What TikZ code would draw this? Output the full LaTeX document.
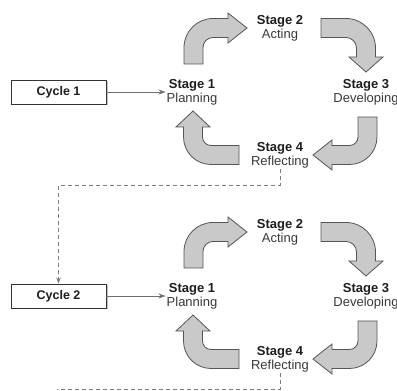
\documentclass[tikz,border=0pt]{standalone}
\usepackage{fontspec}
\setmainfont{Liberation Sans}
\usetikzlibrary{arrows.meta,shadows}
\definecolor{arrowfill}{HTML}{C9C9C9}
\definecolor{arrowline}{HTML}{555555}
\definecolor{conn}{HTML}{6E6E6E}
\definecolor{txt}{HTML}{1E1E1E}
\definecolor{txtsub}{HTML}{383838}
\tikzset{
  bentstyle/.style={fill=arrowfill,draw=arrowline,line width=0.8pt,line join=miter},
  stagetxt/.style={align=center,font=\fontsize{13}{14}\selectfont,inner sep=1pt,text=txt},
  cyclebox/.style={draw=black!80,fill=white,line width=0.9pt,minimum width=95pt,minimum height=24pt,
    font=\bfseries\fontsize{12.5}{14}\selectfont,text=txt,
    drop shadow={shadow xshift=1.5pt,shadow yshift=-1.5pt,fill=black!30,opacity=0.8}},
  connline/.style={draw=conn,line width=0.8pt,-{Stealth[length=7pt,width=5pt]}},
  dashline/.style={draw=conn!90,line width=0.8pt,dash pattern=on 4pt off 3pt}
}
% cx, cy, rotation, R, L1, L2, head length, head half width
\newcommand\bentarrow[8]{%
  \begin{scope}[shift={(#1,#2)},rotate=#3]
    \filldraw[bentstyle] (-#4-9.5,-#5) -- (-#4-9.5,0)
      arc[start angle=180,end angle=90,radius=#4pt+9.5pt]
      -- (#6,#4+9.5) -- (#6,#4+#8) -- (#6+#7,#4) -- (#6,#4-#8) -- (#6,#4-9.5) -- (0,#4-9.5)
      arc[start angle=90,end angle=180,radius=#4pt-9.5pt]
      -- (-#4+9.5,-#5) -- cycle;
  \end{scope}}
\begin{document}
\begin{tikzpicture}[x=1pt,y=1pt]
\useasboundingbox (0,0) rectangle (397,391);
% ---------- Cycle 1 ----------
\bentarrow{213}{343.5}{0}{19.5}{16.5}{15}{19}{15}
\bentarrow{346}{343}{-90}{20}{25}{9}{15}{17}
\bentarrow{349.5}{254}{180}{18}{20}{17.5}{19}{15}
\bentarrow{211}{254}{90}{18}{28}{10}{16}{17}
\node[stagetxt] (s1) at (192,299) {\textbf{Stage 1}\\{\color{txtsub}Planning}};
\node[stagetxt] (s2) at (280,363) {\textbf{Stage 2}\\{\color{txtsub}Acting}};
\node[stagetxt] (s3) at (366,299) {\textbf{Stage 3}\\{\color{txtsub}Developing}};
\node[stagetxt] (s4) at (280,236) {\textbf{Stage 4}\\{\color{txtsub}Reflecting}};
\node[cyclebox] (c1) at (58.5,299) {Cycle 1};
\draw[connline] (c1) -- (s1);
% ---------- Cycle 2 ----------
\bentarrow{213}{139.5}{0}{19.5}{16.5}{15}{19}{15}
\bentarrow{346}{139}{-90}{20}{25}{9}{15}{17}
\bentarrow{349.5}{50}{180}{18}{20}{17.5}{19}{15}
\bentarrow{211}{50}{90}{18}{28}{10}{16}{17}
\node[stagetxt] (t1) at (192,95) {\textbf{Stage 1}\\{\color{txtsub}Planning}};
\node[stagetxt] (t2) at (280,159) {\textbf{Stage 2}\\{\color{txtsub}Acting}};
\node[stagetxt] (t3) at (366,95) {\textbf{Stage 3}\\{\color{txtsub}Developing}};
\node[stagetxt] (t4) at (280,32) {\textbf{Stage 4}\\{\color{txtsub}Reflecting}};
\node[cyclebox] (c2) at (58.5,95) {Cycle 2};
\draw[connline] (c2) -- (t1);
% ---------- dashed links ----------
\coordinate (k1) at (280,206);
\draw[dashline,-{Stealth[length=6pt,width=4.5pt]}] (s4.south) -- (k1) -| (c2.north);
\coordinate (k2) at (280,1.5);
\coordinate (k3) at (57,1.5);
\draw[dashline] (t4.south) -- (k2) -- (k3);
\end{tikzpicture}
\end{document}
